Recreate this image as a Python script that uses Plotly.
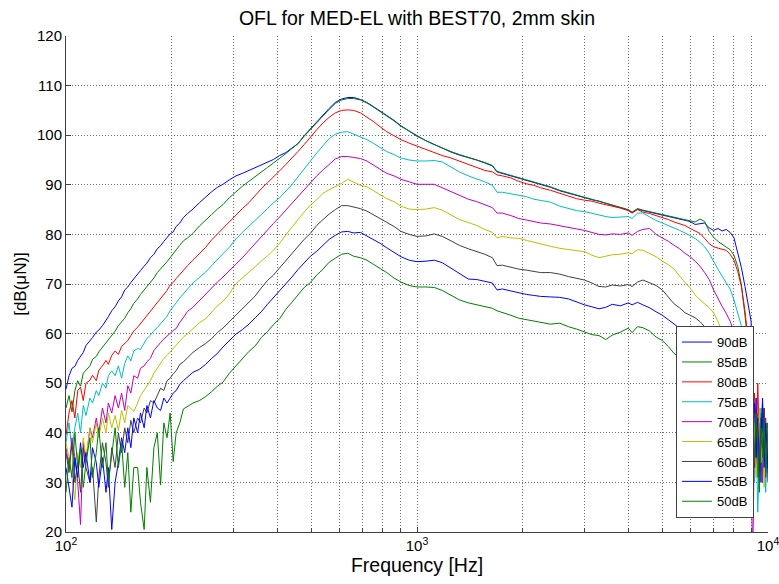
import plotly.graph_objects as go

# ---------------- data ----------------
FREQ_HZ = [
    100, 102, 104, 106, 108, 110, 112, 114, 117, 119, 122, 124, 127, 130, 132, 135, 138, 141, 144, 147,
    150, 153, 156, 160, 163, 167, 170, 174, 178, 182, 186, 190, 194, 198, 202, 206, 211, 216,
    222, 230, 240, 250, 260, 270, 280, 292, 305, 318, 332, 346, 360, 375, 390, 406, 423, 440, 458, 477,
    497, 518, 540, 562, 585, 610, 635, 660, 690, 720, 750, 785, 820, 860, 900, 950, 1000,
    1060, 1120, 1180, 1250, 1320, 1400, 1480, 1560, 1640, 1690, 1750, 1850, 1950, 2050, 2150,
    2250, 2400, 2550, 2700, 2850, 3000, 3150, 3300, 3450, 3600, 3800, 4000, 4100, 4250, 4400,
    4600, 4800, 5000, 5200, 5400, 5600, 5800, 6000, 6200, 6400, 6600, 6800, 7000, 7200, 7400,
    7600, 7800, 8000,
    8200, 8400, 8600, 8800, 8950, 9050, 9150, 9250, 9350, 9450, 9550, 9650, 9750, 9850, 9950, 10000,
]

LEVEL_90 = [
    48.8, 51.5, 53.0, 53.4, 54.6, 55.5, 56.2, 57.6, 58.5, 59.2,
    60.3, 60.7, 61.6, 62.6, 63.4, 64.6, 65.4, 66.6, 67.4, 68.8,
    69.4, 70.3, 71.0, 71.8, 72.7, 73.6, 74.2, 75.3, 76.0, 77.1,
    77.7, 78.6, 79.3, 80.1, 80.5, 81.6, 82.3, 83.4,
    84.2, 85.1, 86.4, 87.6, 88.6, 89.5, 90.1, 91.0, 91.8, 92.3,
    92.9, 93.5, 93.9, 94.6, 95.1, 95.9, 96.5, 97.4, 98.3, 99.9,
    101.3, 102.7, 104.0, 105.4, 106.6, 107.3, 107.6, 107.6, 107.2, 106.6,
    105.8, 104.9, 104.0, 103.0, 101.9, 100.8, 99.8,
    98.9, 98.1, 97.3, 96.6, 96.0, 95.5, 95.0, 94.4, 93.8, 92.6,
    92.3, 91.8, 91.3, 90.9, 90.5, 90.0, 89.5, 88.8, 88.3, 87.8,
    87.4, 87.0, 86.7, 86.3, 85.9, 85.4, 84.9, 84.4, 85.1, 84.8,
    84.5, 84.2, 83.9, 83.6, 83.4, 83.1, 82.9, 82.6, 82.0, 82.1,
    82.3, 81.3, 80.8, 81.2, 80.7, 81.0, 80.4, 79.3,
    76.5, 73.3, 69.5, 65.5, 62.5, 45.0, 38.0, 47.0, 35.0, 42.0, 30.0, 44.0, 36.0, 41.0, 33.0, 38.0,
]

LEVEL_85 = [
    45.0, 47.5, 44.2, 48.5, 50.5, 49.4, 52.0, 52.6, 53.5, 54.8,
    55.4, 56.3, 57.2, 58.3, 58.8, 59.7, 60.5, 61.6, 62.3, 63.1,
    64.2, 65.0, 66.1, 67.0, 67.9, 68.8, 69.4, 70.4, 71.2, 72.3,
    73.0, 73.9, 74.5, 75.3, 76.0, 76.9, 77.8, 78.7,
    79.3, 80.2, 81.7, 82.8, 84.0, 85.1, 86.0, 87.4, 88.6, 89.7,
    90.7, 91.6, 92.6, 93.5, 94.4, 95.3, 96.3, 97.3, 98.3, 99.8,
    101.2, 102.6, 103.9, 105.2, 106.4, 107.1, 107.4, 107.4, 107.1, 106.5,
    105.7, 104.8, 103.9, 102.9, 101.8, 100.8, 99.8,
    98.9, 98.1, 97.4, 96.7, 96.1, 95.6, 95.0, 94.5, 93.9, 92.7,
    92.4, 91.9, 91.4, 91.0, 90.5, 90.1, 89.6, 88.9, 88.4, 87.9,
    87.5, 87.1, 86.7, 86.3, 86.0, 85.5, 85.0, 84.5, 85.2, 84.9,
    84.6, 84.3, 84.0, 83.7, 83.4, 83.2, 82.9, 82.7, 82.5, 83.1,
    82.6, 80.6, 79.4, 78.6, 78.0, 77.4, 76.9, 75.8,
    73.5, 69.8, 64.0, 57.5, 50.5, 42.0, 36.0, 44.0, 31.0, 40.0, 37.0, 46.0, 34.0, 39.0, 42.0, 36.0,
]

LEVEL_80 = [
    39.5, 44.0, 46.5, 43.0, 48.5, 49.2, 46.5, 50.0, 50.6, 51.6,
    50.5, 52.6, 53.5, 54.6, 53.8, 55.6, 56.5, 55.8, 57.4, 58.0,
    58.6, 59.6, 60.5, 61.3, 62.0, 62.9, 63.5, 64.4, 65.3, 66.3,
    67.0, 67.9, 68.7, 69.8, 70.3, 71.1, 72.0, 72.9,
    73.7, 74.8, 76.1, 77.4, 78.9, 80.1, 81.2, 82.5, 84.0, 85.2,
    86.4, 87.9, 89.2, 90.4, 91.5, 92.8, 94.1, 95.3, 96.7, 98.1,
    99.7, 101.1, 102.5, 103.6, 104.5, 105.0, 105.1, 105.0, 104.5, 103.7,
    102.8, 101.7, 100.7, 99.9, 99.1, 98.4, 97.8,
    97.2, 96.5, 95.9, 95.4, 94.8, 94.0, 93.4, 92.9, 92.6, 92.0,
    91.8, 91.4, 90.7, 90.2, 89.9, 89.4, 88.9, 88.3, 87.8, 87.2,
    86.9, 86.7, 86.3, 86.0, 85.7, 85.3, 84.8, 84.3, 85.0, 84.5,
    84.2, 83.8, 83.5, 83.0, 82.5, 82.2, 81.8, 81.2, 80.7, 80.2,
    79.2, 78.1, 77.5, 77.2, 77.0, 76.8, 76.0, 74.8,
    72.5, 69.5, 64.5, 58.0, 51.0, 43.0, 48.0, 34.0, 50.0, 38.0, 44.0, 32.0, 45.0, 37.0, 40.0, 34.0,
]

LEVEL_75 = [
    38.0, 42.0, 36.5, 41.0, 44.0, 40.0, 45.5, 43.5, 47.0, 46.0,
    48.5, 47.5, 50.0, 49.0, 51.5, 52.5, 51.5, 53.5, 51.0, 54.0,
    55.5, 54.5, 56.5, 57.0, 56.8, 58.2, 59.0, 59.7, 60.6, 61.2,
    62.0, 62.9, 63.5, 64.6, 65.3, 66.2, 67.2, 68.1,
    69.0, 70.2, 71.3, 72.4, 73.7, 75.0, 76.1, 77.4, 79.1, 80.4,
    81.6, 82.9, 84.0, 85.2, 86.4, 87.4, 88.7, 90.0, 91.6, 93.2,
    95.0, 96.4, 97.9, 99.3, 100.2, 100.6, 100.7, 100.2, 99.7, 99.1,
    98.4, 97.5, 96.7, 96.1, 95.4, 95.0, 94.8,
    94.8, 94.9, 94.6, 93.5, 92.6, 91.8, 91.2, 90.6, 89.9, 88.5,
    88.5, 88.2, 87.8, 87.6, 87.1, 86.8, 86.5, 85.7, 85.2, 84.8,
    84.6, 84.2, 83.9, 83.6, 83.4, 83.5, 83.6, 83.2, 84.3, 84.3,
    83.5, 82.8, 82.3, 81.8, 81.4, 80.8, 80.3, 79.8, 79.2, 78.4,
    77.5, 76.2, 74.5, 73.0, 71.6, 70.3, 69.0, 66.8,
    64.2, 61.5, 55.5, 48.0, 42.0, 37.0, 30.0, 41.0, 24.0, 35.0, 45.0, 33.0, 39.0, 28.0, 37.0, 41.0,
]

LEVEL_70 = [
    37.0, 33.0, 39.0, 35.0, 30.0, 21.5, 38.0, 34.0, 41.0, 39.0,
    43.0, 40.0, 45.0, 42.0, 46.0, 44.0, 47.5, 45.0, 48.0, 44.5,
    49.5, 48.0, 51.5, 51.0, 53.0, 53.5, 54.3, 55.0, 56.6, 57.5,
    58.2, 58.9, 59.5, 60.2, 60.6, 61.0, 62.3, 63.2,
    64.5, 65.3, 66.7, 68.0, 69.2, 70.4, 71.4, 72.6, 74.0, 75.3,
    76.8, 78.2, 79.6, 80.9, 82.2, 83.5, 84.9, 86.3, 87.6, 89.0,
    90.5, 91.8, 93.0, 94.2, 95.2, 95.7, 95.7, 95.5, 95.3, 94.8,
    94.0, 93.1, 92.3, 91.8, 91.1, 90.6, 90.1,
    90.1, 90.1, 89.4, 88.6, 87.8, 87.1, 86.6, 86.0, 85.4, 84.3,
    84.3, 83.8, 83.2, 82.9, 82.6, 82.3, 82.1, 81.8, 81.4, 81.1,
    80.8, 80.4, 80.0, 79.9, 80.1, 80.0, 80.3, 79.8, 80.6, 81.0,
    81.2, 80.0, 79.3, 78.6, 77.8, 77.1, 76.2, 75.5, 74.6, 73.6,
    72.3, 70.9, 68.8, 67.0, 65.5, 64.1, 62.5, 60.3,
    56.0, 50.0, 44.0, 38.0, 30.0, 15.0, 40.0, 33.0, 44.0, 36.0, 41.0, 30.0, 38.0, 43.0, 35.0, 39.0,
]

LEVEL_65 = [
    38.0, 35.0, 31.0, 26.5, 36.0, 33.0, 39.0, 35.0, 41.0, 38.0,
    42.0, 39.0, 43.0, 40.0, 44.0, 41.0, 43.5, 40.5, 44.5, 42.0,
    45.5, 44.8, 44.3, 46.0, 47.5, 48.6, 49.5, 50.5, 52.0, 53.1,
    54.0, 55.0, 55.6, 56.3, 57.0, 57.8, 58.6, 59.3,
    60.0, 61.0, 62.2, 63.0, 64.3, 65.6, 66.5, 68.0, 70.1, 71.2,
    72.3, 73.5, 74.6, 75.7, 76.8, 78.2, 79.9, 81.5, 83.0, 84.5,
    85.9, 87.0, 88.3, 89.0, 89.6, 90.3, 91.1, 90.6, 89.9, 89.6,
    88.9, 88.1, 87.2, 86.6, 85.7, 85.1, 85.0,
    85.1, 85.4, 84.9, 83.9, 83.0, 82.4, 81.8, 81.0, 80.4, 79.3,
    79.6, 79.3, 79.2, 78.8, 78.4, 78.0, 77.6, 77.2, 77.0, 76.8,
    76.5, 75.8, 75.3, 75.6, 75.9, 76.0, 76.3, 76.1, 76.9, 76.8,
    76.1, 75.5, 74.6, 73.9, 73.0, 71.6, 70.3, 69.2, 67.8, 66.8,
    66.0, 65.2, 64.2, 62.5, 60.5, 58.0, 55.0, 52.0,
    49.0, 46.0, 43.0, 40.0, 37.0, 35.0, 42.0, 31.0, 38.0, 45.0, 34.0, 40.0, 29.0, 36.0, 41.0, 37.0,
]

LEVEL_60 = [
    36.0, 32.0, 38.0, 30.0, 34.0, 28.0, 37.0, 33.0, 30.0, 33.0,
    22.0, 31.0, 38.0, 34.0, 29.0, 37.0, 33.0, 40.0, 36.0, 41.0,
    38.0, 42.5, 40.0, 43.0, 42.0, 45.0, 44.0, 46.5, 46.0, 47.5,
    49.0, 48.5, 50.5, 51.0, 51.9, 52.5, 53.8, 54.3,
    55.2, 56.2, 57.2, 58.0, 59.0, 60.2, 61.1, 62.4, 63.8, 65.2,
    66.4, 67.6, 69.2, 70.7, 71.8, 73.2, 74.8, 76.2, 77.6, 79.0,
    80.2, 81.8, 83.0, 84.1, 85.0, 85.8, 85.8, 85.5, 85.2, 84.7,
    84.0, 83.3, 82.4, 81.6, 80.6, 80.0, 79.6,
    79.7, 80.1, 79.6, 78.7, 77.8, 77.1, 76.6, 76.0, 75.3, 73.7,
    73.8, 73.4, 73.0, 72.8, 72.6, 72.3, 72.3, 72.0, 71.5, 71.1,
    70.8, 70.2, 69.5, 69.4, 69.8, 69.6, 69.9, 69.5, 70.4, 70.8,
    70.3, 69.7, 68.8, 67.3, 66.0, 65.2, 64.2, 63.7, 63.2, 62.4,
    61.4, 59.8, 58.5, 57.0, 55.0, 53.0, 51.0, 49.0,
    47.0, 45.0, 43.0, 41.0, 39.0, 37.0, 33.0, 42.0, 36.0, 30.0, 43.0, 37.0, 45.0, 32.0, 38.0, 40.0,
]

LEVEL_55 = [
    33.0, 29.0, 25.0, 35.0, 31.0, 38.0, 33.0, 36.0, 30.0, 37.0,
    34.0, 29.0, 35.0, 28.0, 33.0, 20.5, 30.0, 34.0, 39.0, 36.0,
    41.0, 37.0, 43.0, 40.0, 44.0, 41.0, 45.5, 43.0, 46.5, 45.0,
    44.5, 47.0, 46.0, 47.0, 48.0, 48.5, 49.8, 50.5,
    51.3, 52.2, 52.8, 53.8, 55.0, 56.0, 57.3, 58.5, 59.9, 60.8,
    61.9, 63.2, 64.4, 65.9, 67.2, 68.6, 70.1, 71.4, 72.9, 74.3,
    75.6, 76.6, 77.8, 79.0, 79.8, 80.5, 80.6, 80.3, 80.4, 79.7,
    79.0, 78.2, 77.3, 76.4, 75.5, 74.8, 74.5,
    74.6, 74.8, 74.3, 73.2, 72.3, 71.0, 70.9, 70.5, 70.2, 68.8,
    69.0, 68.6, 68.2, 67.9, 67.7, 67.5, 67.4, 67.3, 67.0, 66.3,
    65.8, 65.4, 65.0, 65.3, 65.9, 65.6, 66.2, 65.8, 66.3, 65.8,
    65.2, 64.4, 63.7, 62.8, 62.0, 61.1, 60.2, 59.3, 58.5, 57.6,
    56.7, 55.8, 54.8, 53.8, 52.7, 51.5, 50.3, 49.0,
    47.5, 46.0, 44.5, 43.0, 41.5, 40.0, 46.0, 35.0, 43.0, 31.0, 39.0, 47.0, 33.0, 42.0, 36.0, 30.0,
]

LEVEL_50 = [
    28.0, 35.0, 31.0, 40.0, 33.0, 37.0, 29.0, 34.0, 39.0, 31.0,
    36.0, 41.0, 33.0, 38.0, 30.0, 36.0, 41.0, 33.0, 38.0, 29.0,
    36.0, 24.0, 33.0, 33.0, 26.0, 20.5, 33.0, 26.0, 37.0, 40.0,
    29.5, 42.0, 39.0, 44.0, 34.2, 40.0, 42.0, 44.8,
    45.3, 46.0, 46.5, 47.3, 48.3, 49.4, 50.2, 52.0, 53.5, 54.9,
    56.4, 57.5, 59.2, 60.4, 61.8, 63.0, 64.9, 66.3, 67.9, 69.3,
    70.3, 71.8, 73.0, 74.4, 75.2, 76.0, 76.2, 75.6, 75.3, 74.8,
    74.0, 73.2, 72.3, 71.2, 70.4, 69.7, 69.4,
    69.4, 69.3, 68.7, 67.8, 66.8, 66.2, 65.8, 65.5, 65.1, 64.6,
    64.3, 63.7, 63.1, 62.8, 62.5, 62.2, 61.9, 62.1, 61.4, 60.9,
    60.4, 59.8, 59.6, 58.8, 59.7, 60.3, 61.1, 60.2, 61.4, 61.2,
    60.5, 59.3, 58.6, 57.4, 56.0, 55.2, 54.4, 53.5, 52.8, 52.0,
    51.2, 50.4, 49.6, 48.8, 48.0, 47.2, 46.5, 45.7,
    45.0, 44.2, 43.4, 42.6, 42.0, 41.0, 35.0, 44.0, 38.0, 28.0, 41.0, 35.0, 43.0, 31.0, 39.0, 42.0,
]

SERIES_NAMES = ["90dB", "85dB", "80dB", "75dB", "70dB", "65dB", "60dB", "55dB", "50dB"]
SERIES_LEVELS = [LEVEL_90, LEVEL_85, LEVEL_80, LEVEL_75, LEVEL_70, LEVEL_65, LEVEL_60, LEVEL_55, LEVEL_50]

X_MAJOR_TICKS = [100, 1000, 10000]
X_MAJOR_TEXT = ["10<sup>2</sup>", "10<sup>3</sup>", "10<sup>4</sup>"]
X_MINOR_TICKS = [200, 300, 400, 500, 600, 700, 800, 900,
                 2000, 3000, 4000, 5000, 6000, 7000, 8000, 9000]

TITLE = "OFL for MED-EL with BEST70, 2mm skin"
X_LABEL = "Frequency [Hz]"
Y_LABEL = "[dB(\u03bcN)]"

# ---------------- styling ----------------
COLORS = ["#0000ff", "#008000", "#ff0000", "#00bfbf", "#bf00bf", "#bfbf00", "#404040", "#0000ff", "#008000"]
FONT = "Liberation Sans, Arial, Helvetica, sans-serif"
GRID_COLOR = "#6e6e6e"
GRID_DASH = "1px,2px"

fig = go.Figure()
for name, vals, col in zip(SERIES_NAMES, SERIES_LEVELS, COLORS):
    n = min(len(FREQ_HZ), len(vals))
    fig.add_trace(go.Scatter(
        x=FREQ_HZ[:n], y=vals[:n], mode="lines", name=name,
        line=dict(color=col, width=1),
    ))

fig.update_layout(
    width=779, height=584,
    margin=dict(l=66, r=11, t=36, b=52, autoexpand=False),
    paper_bgcolor="white", plot_bgcolor="white",
    font=dict(family=FONT, color="black", size=15),
    title=dict(text=TITLE, x=0.5, xref="paper", xanchor="center",
               y=1 - 18 / 584, yref="container", yanchor="middle",
               font=dict(size=19.5, family=FONT, color="black")),
    showlegend=True,
    legend=dict(x=0.98, xanchor="right", y=0.028, yanchor="bottom",
                bgcolor="white", bordercolor="#404040", borderwidth=1,
                font=dict(size=13, family=FONT, color="black"),
                itemwidth=30, tracegroupgap=0),
    xaxis=dict(type="log", range=[2, 4], automargin=False,
               tickmode="array", tickvals=X_MAJOR_TICKS, ticktext=X_MAJOR_TEXT,
               ticklabeloverflow="allow",
               ticks="inside", ticklen=5, tickcolor="#404040",
               showgrid=True, gridcolor=GRID_COLOR, griddash=GRID_DASH, gridwidth=1,
               minor=dict(tickmode="array", tickvals=X_MINOR_TICKS, ticks="inside", ticklen=4,
                          tickcolor="#404040", showgrid=True, gridcolor=GRID_COLOR,
                          griddash=GRID_DASH, gridwidth=1),
               showline=True, linecolor="#404040", linewidth=1, mirror=False,
               zeroline=False, tickfont=dict(size=15),
               title=dict(text=X_LABEL, font=dict(size=19.5), standoff=2)),
    yaxis=dict(range=[20, 120], tick0=20, dtick=10, automargin=False,
               ticks="inside", ticklen=5, tickcolor="#404040",
               showgrid=True, gridcolor=GRID_COLOR, griddash=GRID_DASH, gridwidth=1,
               showline=True, linecolor="#404040", linewidth=1, mirror=False,
               zeroline=False, tickfont=dict(size=15),
               title=dict(text=Y_LABEL, font=dict(size=17), standoff=6)),
)

fig.write_html("out.html")
